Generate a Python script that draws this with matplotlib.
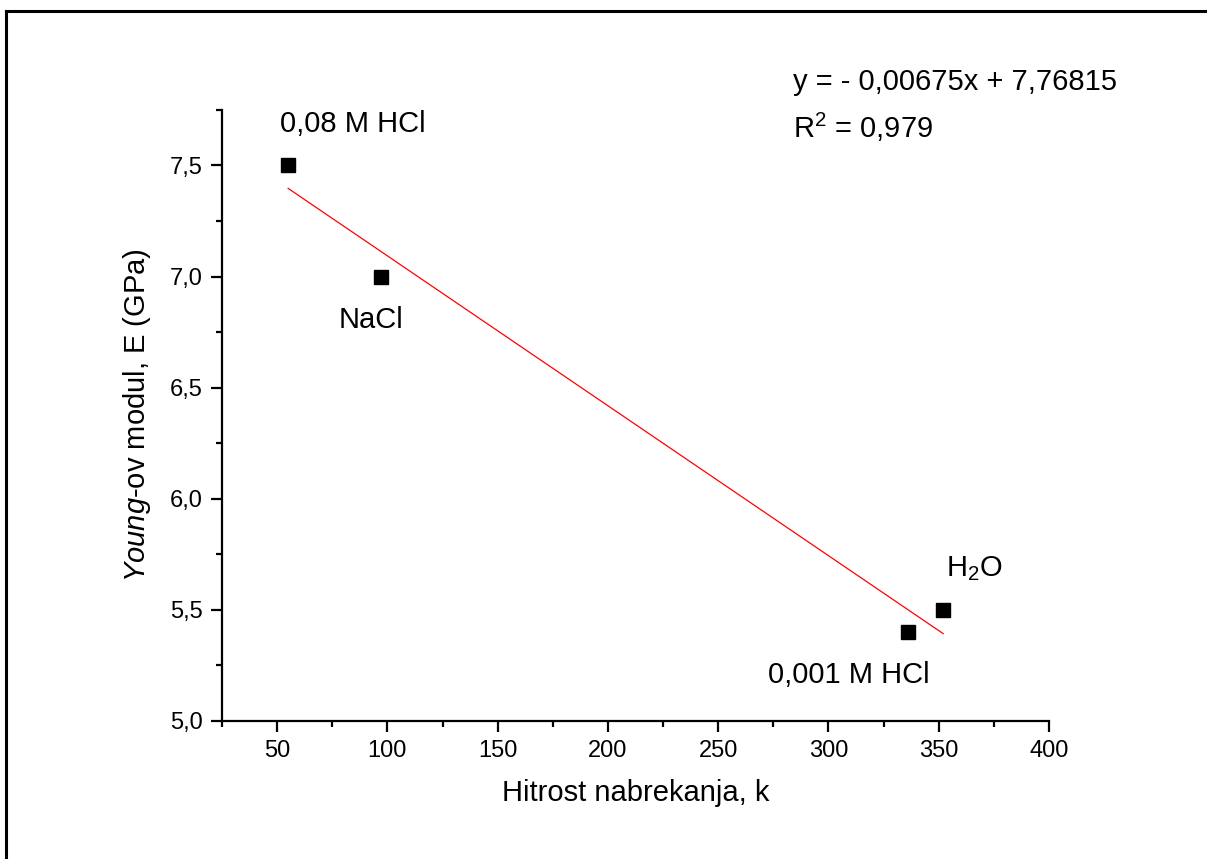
import matplotlib
matplotlib.use("Agg")
import matplotlib.pyplot as plt
from matplotlib.ticker import MultipleLocator, FuncFormatter
from matplotlib.lines import Line2D

plt.rcParams['font.family'] = ['Liberation Sans', 'DejaVu Sans']
plt.rcParams['mathtext.fontset'] = 'custom'
plt.rcParams['mathtext.rm'] = 'Liberation Sans'
plt.rcParams['mathtext.it'] = 'Liberation Sans:italic'

# Data
samples = ["0,08 M HCl", "NaCl", "0,001 M HCl", r"H$_\mathregular{2}$O"]
rate_k = [55, 97, 336, 352]
young_E = [7.5, 7.0, 5.4, 5.5]

# Linear fit as printed on the chart
slope = -0.00675
intercept = 7.76815
r_squared = 0.979

# label offsets in points (dx, dy) and alignment
label_offsets = [(-6, 24, 'left'), (-30, -37, 'left'), (16, -37, 'right'), (2, 24, 'left')]

fig = plt.figure(figsize=(12.07, 8.59), dpi=100)
ax = fig.add_axes([0.1839, 0.161, 0.6852, 0.711])

# frame around the picture (only top and left survive the crop)
fig.add_artist(Line2D([6 / 1207, 1.0], [1 - 11 / 859, 1 - 11 / 859], color='black', lw=2.2))
fig.add_artist(Line2D([6 / 1207, 6 / 1207], [0.0, 1 - 11 / 859], color='black', lw=2.2))

ax.plot(rate_k, young_E, 's', color='black', markersize=10)

x_fit = [min(rate_k), max(rate_k)]
y_fit = [slope * x + intercept for x in x_fit]
ax.plot(x_fit, y_fit, color='red', lw=0.9)

for name, x, y, (dx, dy, ha) in zip(samples, rate_k, young_E, label_offsets):
    ax.annotate(name, (x, y), xytext=(dx, dy), textcoords='offset points',
                ha=ha, va='baseline', fontsize=21)

eq = "y = - {:.5f}x + {:.5f}".format(abs(slope), intercept).replace('.', ',')
fig.text(793 / 1207, 1 - 90 / 859, eq, fontsize=21, va='baseline')
fig.text(793 / 1207, 1 - 138 / 859,
         r"R$^\mathregular{2}$ = " + "{:.3f}".format(r_squared).replace('.', ','),
         fontsize=21, va='baseline')

ax.set_xlim(25, 400)
ax.set_ylim(5.0, 7.75)
ax.xaxis.set_major_locator(MultipleLocator(50))
ax.xaxis.set_minor_locator(MultipleLocator(25))
ax.yaxis.set_major_locator(MultipleLocator(0.5))
ax.yaxis.set_minor_locator(MultipleLocator(0.25))
ax.yaxis.set_major_formatter(FuncFormatter(lambda v, p: "{:.1f}".format(v).replace('.', ',')))
ax.xaxis.set_major_formatter(FuncFormatter(lambda v, p: "{:.0f}".format(v)))

for s in ['top', 'right']:
    ax.spines[s].set_visible(False)
for s in ['left', 'bottom']:
    ax.spines[s].set_linewidth(1.6)

ax.tick_params(which='major', direction='out', length=8, width=1.6, labelsize=17, pad=6)
ax.tick_params(which='minor', direction='out', length=4.5, width=1.6)

ax.set_xlabel("Hitrost nabrekanja, k", fontsize=21, labelpad=12)
ax.set_ylabel(r"$\mathit{Young}$-ov modul, E (GPa)", fontsize=21, labelpad=12)

fig.savefig("out.png", dpi=100, facecolor='white')
